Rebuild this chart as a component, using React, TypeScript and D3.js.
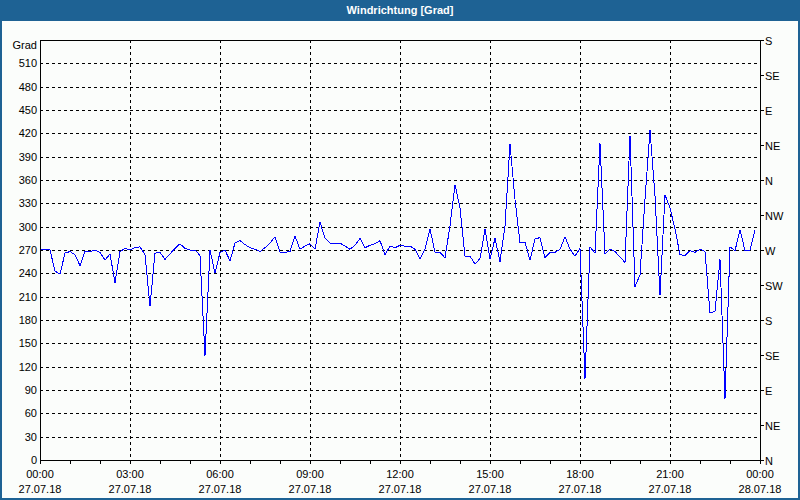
import React, { useEffect } from "react";
import * as d3 from "d3";

// Wind direction samples, every 10 minutes from 27.07.18 00:00
const VALUES: number[] = [
  271, 271, 270, 243, 239, 266, 268, 264, 250, 268,
  268, 270, 267, 257, 265, 228, 268, 272, 270, 273,
  274, 264, 198, 266, 267, 258, 265, 272, 278, 272,
  270, 270, 263, 134, 270, 240, 267, 270, 256, 279,
  282, 277, 273, 271, 268, 273, 279, 287, 267, 267,
  268, 288, 271, 275, 278, 271, 306, 285, 279, 279,
  279, 275, 271, 276, 285, 273, 276, 278, 282, 264,
  275, 273, 276, 275, 275, 271, 258, 271, 297, 267,
  267, 260, 301, 354, 324, 262, 262, 252, 259, 297,
  258, 285, 255, 301, 406, 335, 279, 280, 257, 284,
  286, 260, 267, 267, 271, 287, 271, 262, 272, 104,
  274, 266, 407, 265, 271, 268, 261, 254, 417, 223,
  238, 335, 424, 340, 212, 341, 324, 297, 264, 263,
  269, 267, 271, 268, 189, 191, 258, 79, 274, 269,
  296, 269, 270, 296,
];
const STEP_MIN = 10;

const LEFT_TICKS: number[] = [0, 30, 60, 90, 120, 150, 180, 210, 240, 270, 300, 330, 360, 390, 420, 450, 480, 510];
const COMPASS: string[] = ["N", "NE", "E", "SE", "S", "SW", "W", "NW", "N", "NE", "E", "SE", "S"];
const X_HOURS: number[] = [0, 3, 6, 9, 12, 15, 18, 21, 24];
const X_TIMES: string[] = ["00:00", "03:00", "06:00", "09:00", "12:00", "15:00", "18:00", "21:00", "00:00"];
const X_DATES: string[] = ["27.07.18", "27.07.18", "27.07.18", "27.07.18", "27.07.18", "27.07.18", "27.07.18", "27.07.18", "28.07.18"];

const W = 800;
const H = 500;
const L = 40, R = 760, T = 40, B = 460;
const FONT = "'Liberation Sans', Arial, sans-serif";
const BLUE = "#1e6294";

export default function App() {
  useEffect(() => {
    document.body.style.margin = "0";
  }, []);

  const x = d3.scaleLinear().domain([0, 24]).range([L, R]);
  const y = d3.scaleLinear().domain([0, 540]).range([B, T]);

  const line = d3
    .line<number>()
    .x((_, i) => x((i * STEP_MIN) / 60))
    .y((v) => y(v));

  const hourTicks = d3.range(0, 25);
  const compassTicks = COMPASS.map((_, i) => i * 45);

  return (
    <svg width={W} height={H} style={{ display: "block", position: "absolute", left: 0, top: 0 }}>
      <rect x={0} y={0} width={W} height={H} fill={BLUE} />
      <rect x={2} y={21} width={W - 4} height={H - 23} fill="#fbfdfb" />
      <text x={400} y={11} textAnchor="middle" dominantBaseline="middle" fill="#ffffff" fontFamily={FONT} fontSize={11} fontWeight="bold">
        Windrichtung [Grad]
      </text>

      {/* horizontal grid */}
      {LEFT_TICKS.filter((v) => v > 0).map((v) => (
        <line key={"hg" + v} x1={L} x2={R} y1={Math.round(y(v)) + 0.5} y2={Math.round(y(v)) + 0.5}
          stroke="#000" strokeDasharray="3,3" shapeRendering="crispEdges" />
      ))}
      {/* vertical grid */}
      {X_HOURS.filter((h) => h > 0 && h < 24).map((h) => (
        <line key={"vg" + h} y1={T} y2={B} x1={Math.round(x(h)) + 0.5} x2={Math.round(x(h)) + 0.5}
          stroke="#000" strokeDasharray="3,3" shapeRendering="crispEdges" />
      ))}

      {/* data line */}
      <path d={line(VALUES) || ""} fill="none" stroke="#0000ff" strokeWidth={1} shapeRendering="crispEdges" />

      {/* frame */}
      <rect x={L + 0.5} y={T + 0.5} width={R - L} height={B - T} fill="none" stroke="#000" shapeRendering="crispEdges" />

      {/* bottom hourly ticks */}
      {hourTicks.map((h) => (
        <line key={"bt" + h} x1={Math.round(x(h)) + 0.5} x2={Math.round(x(h)) + 0.5} y1={B} y2={B + 4}
          stroke="#000" shapeRendering="crispEdges" />
      ))}
      {/* right compass ticks */}
      {compassTicks.map((v) => (
        <line key={"rt" + v} x1={R} x2={R + 4} y1={Math.round(y(v)) + 0.5} y2={Math.round(y(v)) + 0.5}
          stroke="#000" shapeRendering="crispEdges" />
      ))}

      {/* left labels */}
      {LEFT_TICKS.map((v) => (
        <text key={"ll" + v} x={37} y={y(v) + 1} textAnchor="end" dominantBaseline="middle" fontFamily={FONT} fontSize={11} fill="#000">
          {v}
        </text>
      ))}
      <text x={37} y={46} textAnchor="end" dominantBaseline="middle" fontFamily={FONT} fontSize={11} fill="#000">Grad</text>

      {/* right labels */}
      {COMPASS.map((c, i) => (
        <text key={"rl" + i} x={765} y={y(i * 45) + 2} textAnchor="start" dominantBaseline="middle" fontFamily={FONT} fontSize={11} fill="#000">
          {c}
        </text>
      ))}

      {/* bottom labels */}
      {X_HOURS.map((h, i) => (
        <g key={"xl" + i}>
          <text x={x(h)} y={475} textAnchor="middle" dominantBaseline="middle" fontFamily={FONT} fontSize={11} fill="#000">
            {X_TIMES[i]}
          </text>
          <text x={x(h)} y={490} textAnchor="middle" dominantBaseline="middle" fontFamily={FONT} fontSize={11} fill="#000">
            {X_DATES[i]}
          </text>
        </g>
      ))}
    </svg>
  );
}
